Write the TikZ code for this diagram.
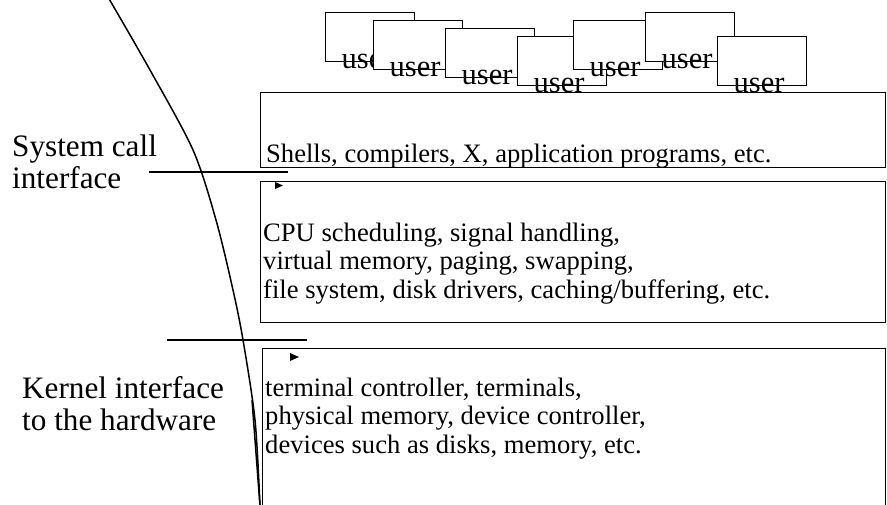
\documentclass[tikz,border=0pt]{standalone}
\usepackage{fontspec}
\setmainfont{Liberation Serif}
\usepackage{tikz}
\usetikzlibrary{calc}
\tikzset{
  layer/.style={draw, line width=1.3pt, anchor=north west, inner sep=0pt},
  userbox/.style={draw, fill=white, line width=1.3pt, anchor=north west,
    minimum width=89pt, minimum height=49pt, inner sep=0pt},
  usertext/.style={anchor=base, inner sep=0pt, font=\fontsize{30.5}{32}\selectfont},
  body/.style={anchor=base west, inner sep=0pt, align=left,
    font=\fontsize{26.6}{28.5}\selectfont},
  side/.style={anchor=base west, inner sep=0pt, align=left,
    font=\fontsize{31.2}{32}\selectfont},
  iface/.style={line width=1.2pt},
  bound/.style={line width=1.5pt},
  tip/.style={fill=black},
}

\begin{document}
\begin{tikzpicture}[x=1pt, y=-1pt]
  \useasboundingbox (0,0) rectangle (887,504);
  % users
  \node[userbox] (u1) at (325,12) {};
  \node[usertext] at ([xshift=-3pt,yshift=-6pt]u1.south) {user};
  \node[userbox] (u2) at (373,20) {};
  \node[usertext] at ([xshift=-3pt,yshift=-6pt]u2.south) {user};
  \node[userbox] (u3) at (445,28) {};
  \node[usertext] at ([xshift=-3pt,yshift=-6pt]u3.south) {user};
  \node[userbox] (u4) at (517,36) {};
  \node[usertext] at ([xshift=-3pt,yshift=-6pt]u4.south) {user};
  \node[userbox] (u5) at (573,20) {};
  \node[usertext] at ([xshift=-3pt,yshift=-6pt]u5.south) {user};
  \node[userbox] (u6) at (645,12) {};
  \node[usertext] at ([xshift=-3pt,yshift=-6pt]u6.south) {user};
  \node[userbox] (u7) at (717,36) {};
  \node[usertext] at ([xshift=-3pt,yshift=-6pt]u7.south) {user};

  % layers (text anchored at the baseline of its last line)
  \node[layer, minimum width=625pt, minimum height=75pt] (apps) at (260,92) {};
  \node[layer, minimum width=625pt, minimum height=141pt] (kern) at (260,181) {};
  \node[layer, minimum width=623pt, minimum height=170pt] (hw) at (262,348) {};
  \node[body] (appstext) at (266,162) {Shells, compilers, X, application programs, etc.};
  \node[body] (kerntext) at (263,298) {CPU scheduling, signal handling,\\
    virtual memory, paging, swapping,\\
    file system, disk drivers, caching/buffering, etc.};
  \node[body] (hwtext) at (265,453) {terminal controller, terminals,\\
    physical memory, device controller,\\
    devices such as disks, memory, etc.};

  % interfaces
  \node[side] (syscall) at (12,188) {System call\\interface};
  \node[side] (kernif) at (22,430) {Kernel interface\\to the hardware};
  \coordinate (sc1) at (149,172);
  \coordinate (sc2) at (288,172);
  \coordinate (ki1) at (167,340);
  \coordinate (ki2) at (307,340);
  \draw[iface] (sc1) -- (sc2);
  \draw[iface] (ki1) -- (ki2);
  \fill[tip] (275,182) -- (283,185.5) -- (275,189) -- cycle;
  \fill[tip] (290,353) -- (299,357) -- (290,361) -- cycle;

  % boundary
  \coordinate (bbot) at (260,506);
  \draw[bound] plot[smooth] coordinates {(108,-3) (150,70) (193,150) (216,220)
    (233,290) (243,340) (255,420) (bbot)};
  \draw[bound] (252,400) -- (bbot);
\end{tikzpicture}
\end{document}
